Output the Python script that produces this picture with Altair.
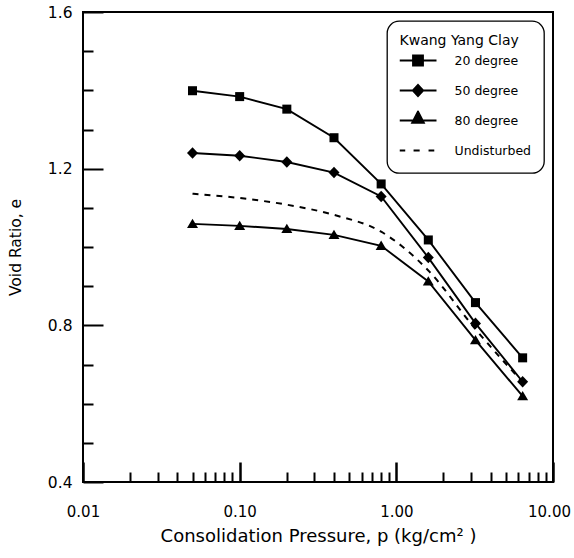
import altair as alt
import pandas as pd

# Consolidation pressure steps (kg/cm^2) and void ratios for each specimen
pressure = [0.05, 0.1, 0.2, 0.4, 0.8, 1.6, 3.2, 6.4]
e_20deg = [1.399, 1.384, 1.352, 1.279, 1.161, 1.018, 0.858, 0.717]
e_50deg = [1.240, 1.233, 1.217, 1.190, 1.129, 0.973, 0.805, 0.656]
e_80deg = [1.059, 1.054, 1.046, 1.031, 1.003, 0.912, 0.762, 0.619]
e_undisturbed = [1.136, 1.125, 1.108, 1.082, 1.039, 0.940, 0.790, 0.655]

series_names = ["20 degree", "50 degree", "80 degree", "Undisturbed"]
tested = series_names[:3]

# axis ticks
x_label_values = [0.01, 0.1, 1, 10]
x_tick_values = [0.01, 0.02, 0.03, 0.04, 0.05, 0.06, 0.07, 0.08, 0.09,
                 0.1, 0.2, 0.3, 0.4, 0.5, 0.6, 0.7, 0.8, 0.9,
                 1, 2, 3, 4, 5, 6, 7, 8, 9, 10]
y_label_values = [0.4, 0.8, 1.2, 1.6]
y_tick_values = [0.4, 0.5, 0.6, 0.7, 0.8, 0.9, 1.0, 1.1, 1.2, 1.3, 1.4, 1.5, 1.6]

# marker glyphs drawn on the curves
marker_paths = [
    "M-0.82,-0.82L0.82,-0.82L0.82,0.82L-0.82,0.82Z",
    "M0,-1.05L1,0L0,1.05L-1,0Z",
    "M0,-0.95L1,0.75L-1,0.75Z",
]
# legend glyphs: a short line (thin filled bar) with the marker on it
BAR = "M-1,-0.05L1,-0.05L1,0.05L-1,0.05Z"
legend_paths = [
    BAR + "M-0.32,-0.32L0.32,-0.32L0.32,0.32L-0.32,0.32Z",
    BAR + "M0,-0.38L0.35,0L0,0.38L-0.35,0Z",
    BAR + "M0,-0.6L0.4,0.18L-0.4,0.18Z",
    "M-1,-0.05L-0.69,-0.05L-0.69,0.05L-1,0.05Z"
    "M-0.24,-0.05L0.09,-0.05L0.09,0.05L-0.24,0.05Z"
    "M0.57,-0.05L0.88,-0.05L0.88,0.05L0.57,0.05Z",
]

frames = []
for name, vals in zip(series_names, [e_20deg, e_50deg, e_80deg, e_undisturbed]):
    frames.append(pd.DataFrame({"p": pressure, "e": vals, "series": name}))
data = pd.concat(frames, ignore_index=True)

FONT = "DejaVu Sans"
W = H = 470

x_scale = alt.Scale(type="log", domain=[0.01, 10], nice=False)
y_scale = alt.Scale(domain=[0.4, 1.6], nice=False, zero=False)

base = alt.Chart(data)

x_label_axis = alt.Axis(
    orient="bottom", values=x_label_values, format=".2f", ticks=False, domain=False,
    grid=False, labelFlush=False, labelOverlap=False, labelFont=FONT, labelFontSize=15,
    labelColor="black", labelPadding=22,
    labelOffset={"condition": {"test": "datum.value >= 10", "value": -4}, "value": 0},
    title="Consolidation Pressure, p (kg/cm² )", titleFont=FONT, titleFontSize=18,
    titleFontWeight="normal", titleColor="black", titlePadding=8,
)
y_label_axis = alt.Axis(
    orient="left", values=y_label_values, format=".1f", ticks=False, domain=False,
    grid=False, labelFlush=False, labelOverlap=False, labelFont=FONT, labelFontSize=15.5,
    labelColor="black", labelPadding=11,
    title="Void Ratio, e", titleFont=FONT, titleFontSize=15.5,
    titleFontWeight="normal", titleColor="black", titlePadding=24,
)

# inward tick marks: a top axis moved onto the bottom edge, a right axis onto the left edge
x_major = "abs(log(datum.value)/LN10 - round(log(datum.value)/LN10)) < 0.001"
x_tick_axis = alt.Axis(
    orient="top", offset=-H, values=x_tick_values, labels=False, domain=False,
    grid=False, title=None, tickColor="black",
    tickSize={"condition": {"test": x_major, "value": 20}, "value": 10},
    tickWidth={"condition": {"test": x_major, "value": 2.5}, "value": 2},
)
y_tick_axis = alt.Axis(
    orient="right", offset=-W, values=y_tick_values, labels=False, domain=False,
    grid=False, title=None, tickColor="black",
    tickSize={"condition": {"test": "round(datum.value*10) % 4 == 0", "value": 20}, "value": 10},
    tickWidth=2,
)

lines = base.transform_filter(
    alt.FieldOneOfPredicate(field="series", oneOf=tested)
).mark_line(color="black", strokeWidth=1.9).encode(
    x=alt.X("p:Q", scale=x_scale, axis=x_label_axis),
    y=alt.Y("e:Q", scale=y_scale, axis=y_label_axis),
    detail="series:N",
)

undisturbed = base.transform_filter(
    alt.datum.series == "Undisturbed"
).mark_line(color="black", strokeWidth=2, strokeDash=[6, 6], interpolate="monotone").encode(
    x=alt.X("p:Q", scale=x_scale, axis=None),
    y=alt.Y("e:Q", scale=y_scale, axis=None),
)

markers = base.transform_filter(
    alt.FieldOneOfPredicate(field="series", oneOf=tested)
).mark_point(filled=True, color="black", opacity=1, size=121).encode(
    x=alt.X("p:Q", scale=x_scale, axis=None),
    y=alt.Y("e:Q", scale=y_scale, axis=None),
    shape=alt.Shape("series:N", scale=alt.Scale(domain=tested, range=marker_paths), legend=None),
)

legend_layer = base.transform_filter("false").mark_point(
    filled=True, color="black", opacity=1
).encode(
    x=alt.X("p:Q", scale=x_scale, axis=x_tick_axis),
    y=alt.Y("e:Q", scale=y_scale, axis=y_tick_axis),
    shape=alt.Shape(
        "series:N",
        scale=alt.Scale(domain=series_names, range=legend_paths),
        legend=alt.Legend(
            title="Kwang Yang Clay", orient="none", legendX=304, legendY=9,
            titleFont=FONT, titleFontSize=14, titleFontWeight="normal", titleColor="black",
            titlePadding=3,
            labelFont=FONT, labelFontSize=12.5, labelColor="black", labelOffset=18,
            symbolSize=1369, symbolStrokeWidth=0, symbolFillColor="black",
            symbolOpacity=1,
            clipHeight=20, rowPadding=10, padding=12.5,
            strokeColor="black", cornerRadius=12, fillColor="white",
        ),
    ),
)

chart = alt.layer(lines, undisturbed, markers, legend_layer).resolve_axis(
    x="independent", y="independent"
).resolve_scale(shape="independent").properties(
    width=W, height=H,
    autosize=alt.AutoSizeParams(type="none"),
    padding={"left": 83, "top": 12, "right": 21, "bottom": 76},
    background="white",
).configure_view(stroke="black", strokeWidth=2).configure_legend(strokeWidth=1.3)

chart.save("out.html", embed_options={"renderer": "svg", "actions": False})
